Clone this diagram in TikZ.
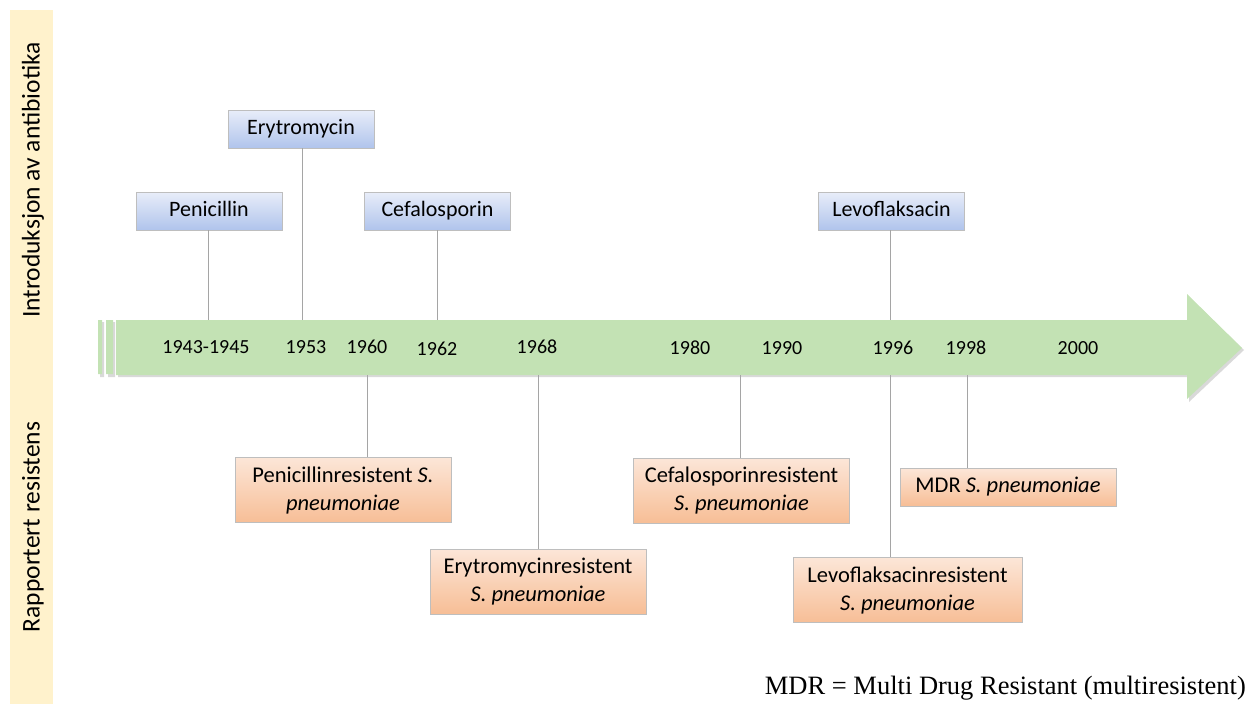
\documentclass[tikz,border=0pt]{standalone}
\usepackage{fontspec}
\setmainfont{Carlito}
\newfontfamily\serifnote{Liberation Serif}
\begin{document}
\definecolor{bandyellow}{RGB}{255,242,204}
\definecolor{arrowgreen}{RGB}{195,226,180}
\definecolor{boxedge}{RGB}{190,190,190}
\definecolor{bluetop}{RGB}{232,237,249}
\definecolor{bluebot}{RGB}{176,196,236}
\definecolor{orangetop}{RGB}{252,230,216}
\definecolor{orangebot}{RGB}{247,190,150}
\definecolor{linkgrey}{RGB}{165,165,165}
\tikzset{
  drugbox/.style={draw=boxedge, line width=0.8pt, top color=bluetop, bottom color=bluebot,
    minimum width=146pt, minimum height=38pt, inner sep=0pt, text height=15pt, text depth=4pt,
    font=\fontsize{22}{26}\selectfont},
  resbox/.style={draw=boxedge, line width=0.8pt, top color=orangetop, bottom color=orangebot,
    minimum width=216pt, minimum height=65pt, inner sep=0pt, align=center,
    font=\fontsize{22.5}{28}\selectfont},
  yearlbl/.style={font=\fontsize{20}{24}\selectfont, inner sep=0pt, text height=13pt, text depth=0pt},
  link/.style={draw=linkgrey, line width=0.9pt},
  sidelbl/.style={rotate=90, font=\fontsize{25.5}{28}\selectfont, inner sep=0pt}
}
\begin{tikzpicture}[x=1pt, y=-1pt]
\useasboundingbox (0,0) rectangle (1258,704);

% side band with the two row captions
\fill[bandyellow] (10,10) rectangle (53,704);
\node[sidelbl] (introlbl) at (33,180) {Introduksjon av antibiotika};
\node[sidelbl] (reslbl) at (33,527) {Rapportert resistens};

% timeline arrow with its shadow
\fill[black!15] (100,322) rectangle (104,377) (108,322) rectangle (115,377);
\fill[black!15] (118,322) -- (1189,322) -- (1189,297) -- (1244,350) -- (1189,402) -- (1189,377) -- (118,377) -- cycle;
\fill[arrowgreen] (98,320) rectangle (102,374) (106,320) rectangle (113,374);
\fill[arrowgreen] (116,320) -- (1187,320) -- (1187,294) -- (1242,348) -- (1187,399) -- (1187,375) -- (116,375) -- cycle;

% years on the timeline
\node[yearlbl] (y4345) at (206,347) {1943-1945};
\node[yearlbl] (y53) at (306,347) {1953};
\node[yearlbl] (y60) at (367,347) {1960};
\node[yearlbl] (y62) at (437,349) {1962};
\node[yearlbl] (y68) at (537,347) {1968};
\node[yearlbl] (y80) at (690,348) {1980};
\node[yearlbl] (y90) at (782,348) {1990};
\node[yearlbl] (y96) at (893,348) {1996};
\node[yearlbl] (y98) at (966,348) {1998};
\node[yearlbl] (y00) at (1078,348) {2000};

% antibiotics introduced
\node[drugbox] (pen) at (209,211) {Penicillin};
\node[drugbox] (ery) at (301,129) {Erytromycin};
\node[drugbox] (cef) at (437.5,211) {Cefalosporin};
\node[drugbox] (lev) at (891.5,211) {Levoflaksacin};

% resistance reported
\node[resbox] (penres) at (343,490) {Penicillinresistent \textit{S.}\\\textit{pneumoniae}};
\node[resbox] (eryres) at (538,581.5) {Erytromycinresistent\\\textit{S. pneumoniae}};
\node[resbox] (cefres) at (741.5,490.5) {Cefalosporinresistent\\\textit{S. pneumoniae}};
\node[resbox, minimum height=38pt] (mdrres) at (1008,487) {MDR \textit{S. pneumoniae}};
\node[resbox, minimum width=229pt] (levres) at (907.5,590) {Levoflaksacinresistent\\\textit{S. pneumoniae}};

% connectors to the timeline
\draw[link] (pen.south -| 208,0) -- (208,320);
\draw[link] (ery.south -| 302,0) -- (302,320);
\draw[link] (cef.south -| 437,0) -- (437,320);
\draw[link] (lev.south -| 890,0) -- (890,320);
\draw[link] (367,375) -- (penres.north -| 367,0);
\draw[link] (538,375) -- (eryres.north -| 538,0);
\draw[link] (740,375) -- (cefres.north -| 740,0);
\draw[link] (967,375) -- (mdrres.north -| 967,0);
\draw[link] (890,375) -- (levres.north -| 890,0);

% footnote
\node[font=\serifnote\fontsize{26.5}{30}\selectfont, anchor=east, inner sep=0pt] (note) at (1246,688) {MDR = Multi Drug Resistant (multiresistent)};
\end{tikzpicture}
\end{document}
